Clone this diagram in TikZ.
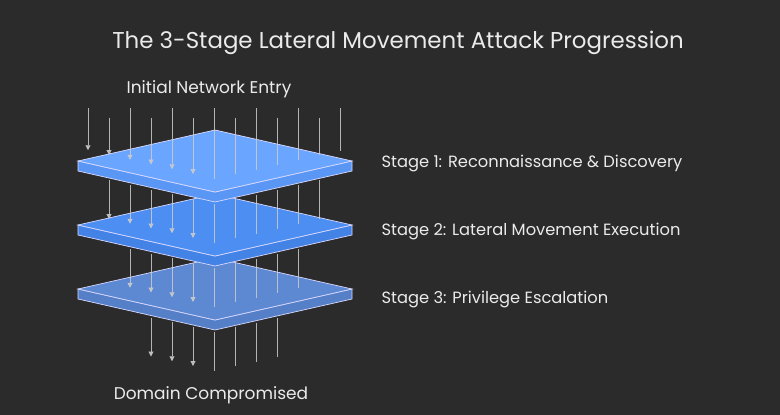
\documentclass[tikz,border=0pt]{standalone}
\usepackage{fontspec}
\setmainfont{Poppins}
\usetikzlibrary{arrows.meta}
\definecolor{bgc}{HTML}{2B2B2B}
\definecolor{topA}{HTML}{6AA6FF}
\definecolor{sideA}{HTML}{5A97F5}
\definecolor{topB}{HTML}{4C8EF2}
\definecolor{sideB}{HTML}{4383E6}
\definecolor{topC}{HTML}{5D88D2}
\definecolor{sideC}{HTML}{5580C8}
\tikzset{
	flow/.style={draw=white!80!black, line width=0.9pt, opacity=0.85},
	flowtip/.style={flow, -{Triangle[width=5pt,length=5pt]}},
	slabedge/.style={draw=white!85!blue, line width=0.7pt},
	lbl/.style={text=white!92!black, font=\fontsize{16.3}{19}\selectfont, anchor=west}
}
% front edge of a slab whose left corner sits at height #2
\newcommand{\frontY}[2]{(#2+31*(1-abs(#1-215)/137))}
\newcommand{\slab}[3]{%
	\filldraw[slabedge, fill=#3] (78,#1) -- (215,#1+31) -- (352,#1) -- (352,#1+10) -- (215,#1+41) -- (78,#1+10) -- cycle;
	\filldraw[slabedge, fill=#2] (78,#1) -- (215,#1-31) -- (352,#1) -- (215,#1+31) -- cycle;
}
% one band of flow lines: first index, last index, top of the layer above, layer below
\newcommand{\flows}[4]{%
	\foreach \i in {#1,...,#2} {
		\pgfmathsetmacro{\xx}{88+21*\i}
		\pgfmathsetmacro{\ya}{ifthenelse(#3<0, ifthenelse(mod(\i,2)==0,108,118), \frontY{\xx}{#3}+12)}
		\pgfmathsetmacro{\yb}{\frontY{\xx}{#4}-13}
		\ifnum\i<6
			\coordinate (s\i) at (\xx,\ya); \coordinate (e\i) at (\xx,\yb);
			\draw[flowtip] (s\i) -- (e\i);
		\else
			\coordinate (s\i) at (\xx,\ya); \coordinate (e\i) at (\xx,\yb);
			\draw[flow] (s\i) -- (e\i);
		\fi
	}
}
\begin{document}
\begin{tikzpicture}[x=1pt,y=-1pt]
	\fill[bgc] (0,0) rectangle (780,415);
	\useasboundingbox (0,0) rectangle (780,415);

	% title and ends
	\node[text=white!92!black, font=\fontsize{22.9}{27}\selectfont] (title) at (398,43) {The 3-Stage Lateral Movement Attack Progression};
	\node[text=white!92!black, font=\fontsize{17}{20}\selectfont] (entry) at (209,89) {Initial Network Entry};
	\node[text=white!92!black, font=\fontsize{17}{20}\selectfont] (exit) at (211,395) {Domain Compromised};

	% layers, bottom first
	\slab{289}{topC}{sideC}
	\flows{3}{9}{289}{353}
	\flows{2}{10}{225}{289}
	\slab{225}{topB}{sideB}
	\flows{1}{11}{161}{225}
	\slab{161}{topA}{sideA}
	\flows{0}{12}{-1}{161}

	% stage labels
	\node[lbl] (st1) at (378,163) {Stage 1: Reconnaissance \& Discovery};
	\node[lbl] (st2) at (378,231) {Stage 2: Lateral Movement Execution};
	\node[lbl] (st3) at (378,299) {Stage 3: Privilege Escalation};
\end{tikzpicture}
\end{document}
